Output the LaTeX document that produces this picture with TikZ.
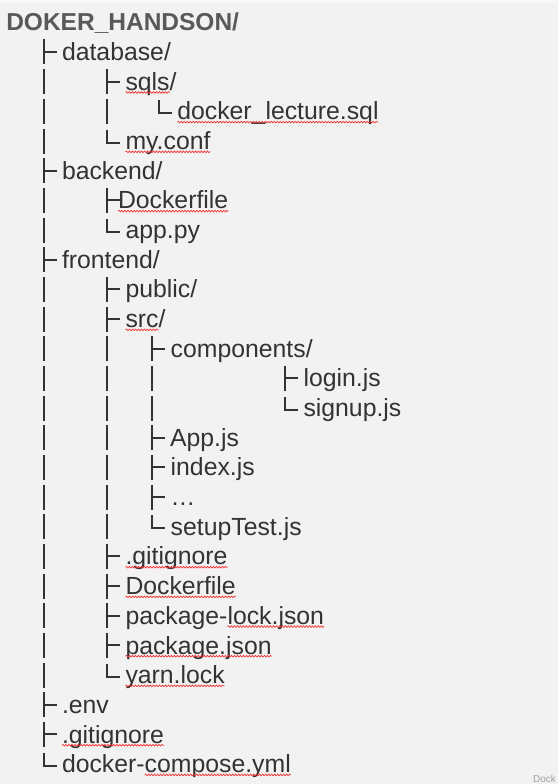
\documentclass[tikz,border=0pt]{standalone}
\usepackage{fontspec}
\setmainfont{Liberation Sans}
\usetikzlibrary{decorations.pathmorphing}
\definecolor{bg}{HTML}{F2F2F2}
\definecolor{bgtop}{HTML}{F8F8F8}
\definecolor{txt}{HTML}{333333}
\definecolor{ttl}{HTML}{595959}
\definecolor{wave}{HTML}{F03030}
\definecolor{mark}{HTML}{A0A0A0}
\newcommand\itemfont{\fontsize{24.8bp}{29bp}\selectfont}
\newcommand\titlefont{\fontsize{24.5bp}{29bp}\selectfont\bfseries}
% tree glyph helpers: #1 = stem x, #2 = row index
\newcommand\vb[2]{\draw[tree] (#1,{rc(#2)-12.5}) -- (#1,{rc(#2)+12.5});}
\newcommand\tee[2]{\draw[tree] (#1,{rc(#2)-12.5}) -- (#1,{rc(#2)+12.5}) (#1,{rc(#2)}) -- ++(12.5,0);}
\newcommand\corner[2]{\draw[tree] (#1,{rc(#2)-11.5}) |- ++(12.5,13);}
\newcommand\spellmark[1]{\draw[spell] ([yshift=-2.2bp]#1.base west) -- ([yshift=-2.2bp]#1.base east);}
\begin{document}
\begin{tikzpicture}[x=1bp,y=-1bp,
  declare function={rc(\i)=52+29.67*\i; rb(\i)=60.6+29.67*\i;},
  item/.style={anchor=base west,inner sep=0pt,outer sep=0pt,text=txt,font=\itemfont},
  tree/.style={draw=txt,line width=2bp},
  spell/.style={draw=wave,line width=0.7bp,decorate,decoration={snake,amplitude=0.8bp,segment length=3bp}}]
\useasboundingbox (0,0) rectangle (558,784);
\clip (0,0) rectangle (558,784);
\fill[bg] (0,0) rectangle (558,784);
\fill[bgtop] (0,0) rectangle (558,3);

% title
\node[item,text=ttl,font=\titlefont] (root) at (6.3,31) {DOKER\_HANDSON/};

% level 1 entries
\node[item] (n0) at (62,{rb(0)}) {database/};
\node[item] (n4) at (62,{rb(4)}) {backend/};
\node[item] (n7) at (62,{rb(7)}) {frontend/};
\node[item] (n22) at (62,{rb(22)}) {.env};
\node[item] (n23) at (62,{rb(23)}) {.gitignore};
\node[item] (n24a) at (62,{rb(24)}) {docker-};
\node[item] (n24) at (n24a.base east) {compose.yml};

% database children
\node[item] (n1) at (125.5,{rb(1)}) {sqls};
\node[item] (n1b) at (n1.base east) {/};
\node[item] (n2) at (177.3,{rb(2)}) {docker\_lecture.sql};
\node[item] (n3) at (125.5,{rb(3)}) {my.conf};

% backend children
\node[item] (n5) at (118,{rb(5)}) {Dockerfile};
\node[item] (n6) at (125.5,{rb(6)}) {app.py};

% frontend children
\node[item] (n8) at (125.5,{rb(8)}) {public/};
\node[item] (n9) at (125.5,{rb(9)}) {src};
\node[item] (n9b) at (n9.base east) {/};
\node[item] (n10) at (170.7,{rb(10)}) {components/};
\node[item] (n11) at (303.5,{rb(11)}) {login.js};
\node[item] (n12) at (303.5,{rb(12)}) {signup.js};
\node[item] (n13) at (170,{rb(13)}) {App.js};
\node[item] (n14) at (170.7,{rb(14)}) {index.js};
\node[item] (n15) at (170.7,{rb(15)}) {…};
\node[item] (n16) at (170.7,{rb(16)}) {setupTest.js};
\node[item] (n17) at (125.5,{rb(17)}) {.gitignore};
\node[item] (n18) at (125.5,{rb(18)}) {Dockerfile};
\node[item] (n19a) at (125.5,{rb(19)}) {package-};
\node[item] (n19) at (n19a.base east) {lock.json};
\node[item] (n20) at (125.5,{rb(20)}) {package.json};
\node[item] (n21) at (125.5,{rb(21)}) {yarn.lock};

% tree glyphs, level 1 (x = 44)
\foreach \r in {0,4,7,22,23} {\tee{44}{\r}}
\foreach \r in {1,2,3,5,6,8,9,...,21} {\vb{44}{\r}}
\corner{44}{24}

% level 2 (x = 107)
\foreach \r in {1,5,8,9,17,18,19,20} {\tee{107}{\r}}
\foreach \r in {2,10,11,...,16} {\vb{107}{\r}}
\foreach \r in {3,6,21} {\corner{107}{\r}}

% level 3
\corner{159.3}{2}
\foreach \r in {10,13,14,15} {\tee{152}{\r}}
\foreach \r in {11,12} {\vb{152}{\r}}
\corner{152}{16}

% level 4
\tee{285}{11}
\corner{285}{12}

% spell-check underlines
\spellmark{n1}
\spellmark{n2}
\spellmark{n3}
\spellmark{n5}
\spellmark{n9}
\spellmark{n17}
\spellmark{n18}
\spellmark{n19}
\spellmark{n20}
\spellmark{n21}
\spellmark{n23}
\spellmark{n24}

% small mark at the corner
\node[anchor=base west,inner sep=0pt,text=mark,font=\fontsize{10bp}{12bp}\selectfont] (wm) at (533,782.5) {Dock};
\end{tikzpicture}
\end{document}
